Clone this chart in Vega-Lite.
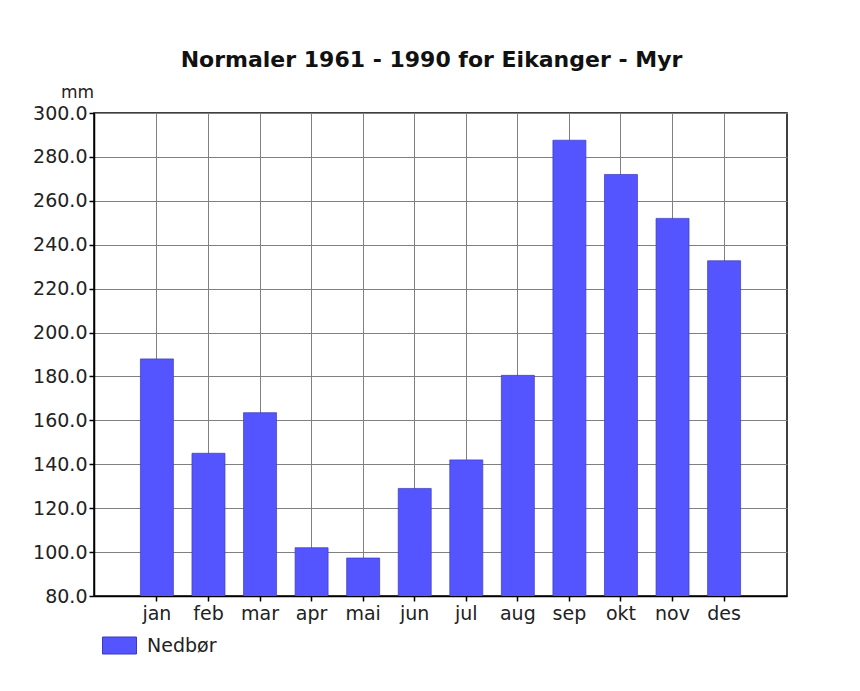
{
  "$schema": "https://vega.github.io/schema/vega-lite/v6.json",
  "autosize": "none",
  "width": 693,
  "height": 483,
  "padding": {"left": 94, "top": 113, "right": 73, "bottom": 95},
  "background": "white",
  "title": {
    "text": "Normaler 1961 - 1990 for Eikanger - Myr",
    "font": "DejaVu Sans",
    "fontSize": 22,
    "fontWeight": "bold",
    "color": "#111",
    "anchor": "middle",
    "frame": "group",
    "dx": -9,
    "offset": 11
  },
  "data": {
    "values": [
      {"maned": "jan", "mm": 188, "serie": "Nedbør"},
      {"maned": "feb", "mm": 145, "serie": "Nedbør"},
      {"maned": "mar", "mm": 163.5, "serie": "Nedbør"},
      {"maned": "apr", "mm": 102, "serie": "Nedbør"},
      {"maned": "mai", "mm": 97.3, "serie": "Nedbør"},
      {"maned": "jun", "mm": 129, "serie": "Nedbør"},
      {"maned": "jul", "mm": 142, "serie": "Nedbør"},
      {"maned": "aug", "mm": 180.5, "serie": "Nedbør"},
      {"maned": "sep", "mm": 287.6, "serie": "Nedbør"},
      {"maned": "okt", "mm": 272, "serie": "Nedbør"},
      {"maned": "nov", "mm": 252, "serie": "Nedbør"},
      {"maned": "des", "mm": 232.7, "serie": "Nedbør"}
    ]
  },
  "mark": {"type": "bar", "stroke": "#3a3ac0", "strokeWidth": 1, "strokeOpacity": 0.7, "clip": true},
  "encoding": {
    "x": {
      "field": "maned",
      "type": "nominal",
      "sort": null,
      "scale": {"paddingInner": 0.36, "paddingOuter": 0.9},
      "axis": {
        "title": null,
        "labelAngle": 0,
        "labelFont": "DejaVu Sans",
        "labelFontSize": 19,
        "labelColor": "#222",
        "labelPadding": 3,
        "grid": true,
        "gridColor": "#808080",
        "gridOpacity": 1,
        "gridWidth": 1,
        "domainColor": "black",
        "domainWidth": 1.5,
        "tickColor": "black",
        "tickSize": 5,
        "tickWidth": 1.5
      }
    },
    "y": {
      "field": "mm",
      "type": "quantitative",
      "scale": {"domain": [80, 300], "zero": false, "nice": false},
      "axis": {
        "title": "mm",
        "titleAngle": 0,
        "titleFont": "DejaVu Sans",
        "titleFontSize": 17,
        "titleFontWeight": "normal",
        "titleColor": "#222",
        "titleAlign": "center",
        "titleBaseline": "bottom",
        "titleX": -17,
        "titleY": -12,
        "values": [80, 100, 120, 140, 160, 180, 200, 220, 240, 260, 280, 300],
        "format": ".1f",
        "labelFont": "DejaVu Sans",
        "labelFontSize": 19,
        "labelColor": "#222",
        "labelPadding": 2,
        "grid": true,
        "gridColor": "#808080",
        "gridOpacity": 1,
        "gridWidth": 1,
        "domainColor": "black",
        "domainWidth": 1.5,
        "tickColor": "black",
        "tickSize": 5,
        "tickWidth": 1.5
      }
    },
    "color": {
      "field": "serie",
      "type": "nominal",
      "scale": {"range": ["#5555ff"]},
      "legend": {
        "title": null,
        "orient": "none",
        "legendX": 8,
        "legendY": 515,
        "padding": 0,
        "symbolType": "M-1,-0.5H1V0.5H-1Z",
        "symbolSize": 1156,
        "symbolStrokeColor": "#3a3ac0",
        "symbolStrokeWidth": 1,
        "symbolOpacity": 1,
        "labelFont": "DejaVu Sans",
        "labelFontSize": 19,
        "labelColor": "#222",
        "labelOffset": 10
      }
    }
  },
  "config": {
    "view": {"stroke": "black", "strokeWidth": 1.5}
  }
}
